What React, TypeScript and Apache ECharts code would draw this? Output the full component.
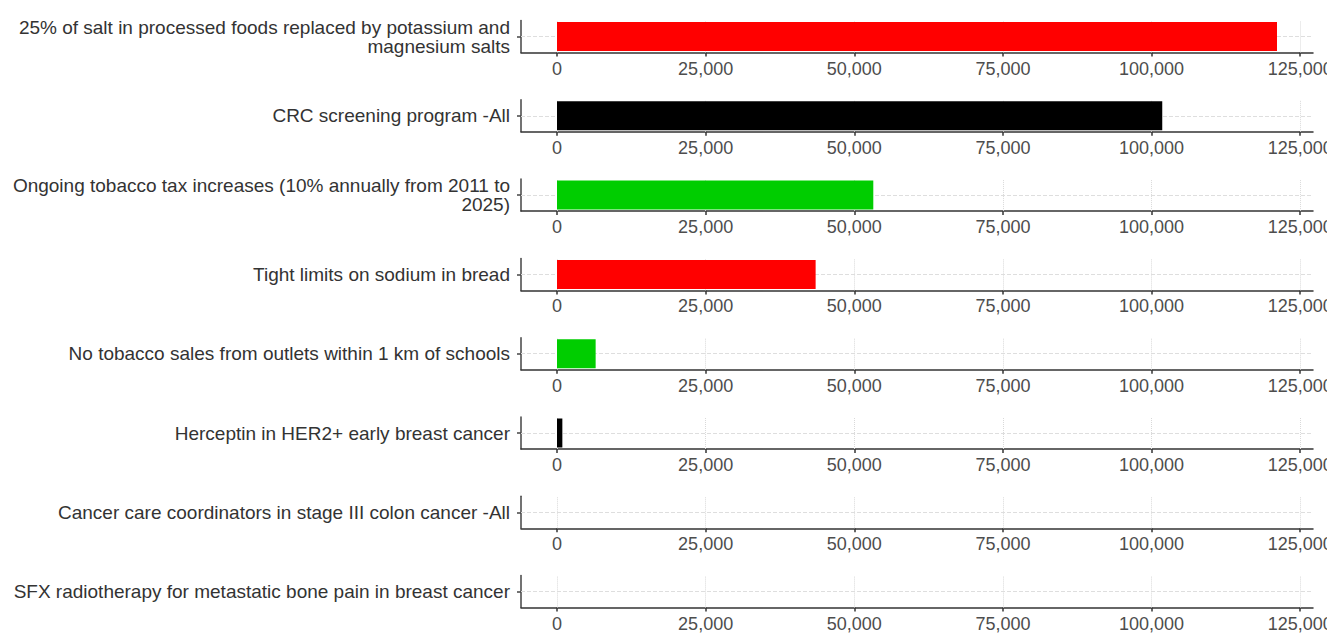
import React, { useEffect, useRef } from "react";
import * as echarts from "echarts";

const categories: string[] = [
  "25% of salt in processed foods replaced by potassium and\nmagnesium salts",
  "CRC screening program -All",
  "Ongoing tobacco tax increases (10% annually from 2011 to\n2025)",
  "Tight limits on sodium in bread",
  "No tobacco sales from outlets within 1 km of schools",
  "Herceptin in HER2+ early breast cancer",
  "Cancer care coordinators in stage III colon cancer -All",
  "SFX radiotherapy for metastatic bone pain in breast cancer",
];

const values: number[] = [121100, 101800, 53200, 43500, 6500, 900, 0, 0];

const groups: string[] = ["diet", "cancer", "tobacco", "diet", "tobacco", "cancer", "cancer", "cancer"];

const xTicks: number[] = [0, 25000, 50000, 75000, 100000, 125000];

const groupColors: Record<string, string> = {
  diet: "#FF0000",
  cancer: "#000000",
  tobacco: "#00CD00",
};

const FONT = "'Liberation Sans', Arial, Helvetica, sans-serif";

function fmt(v: number): string {
  return String(Math.round(v)).replace(/\B(?=(\d{3})+(?!\d))/g, ",");
}

export default function App() {
  const ref = useRef<HTMLDivElement>(null);

  useEffect(() => {
    if (!ref.current) return;
    const chart = echarts.init(ref.current, undefined, { renderer: "svg" });

    const maxV = Math.max(...values);
    const pad = maxV * 0.05;
    const xMin = -pad;
    const xMax = maxV + pad;

    const panelGap = 79.3;
    const firstAxisY = 52.5;
    const panelH = 32;

    const grid: any[] = [];
    const xAxis: any[] = [];
    const yAxis: any[] = [];
    const series: any[] = [];

    categories.forEach((cat, k) => {
      const axisY = firstAxisY + panelGap * k;
      grid.push({
        left: 521,
        right: 14,
        top: axisY - panelH,
        height: panelH,
        containLabel: false,
        outerBoundsMode: "none",
      });
      xAxis.push({
        gridIndex: k,
        type: "value",
        min: xMin,
        max: xMax,
        axisLine: { show: true, onZero: false, lineStyle: { color: "#333333", width: 1.5 } },
        axisTick: { show: true, length: 4, customValues: xTicks, lineStyle: { color: "#333333", width: 1.5 } },
        axisLabel: {
          customValues: xTicks,
          formatter: (v: number) => fmt(v),
          fontSize: 18,
          color: "#4d4d4d",
          margin: 7,
          fontFamily: FONT,
          hideOverlap: false,
        },
        splitLine: { show: false },
      });
      yAxis.push({
        gridIndex: k,
        type: "category",
        data: [cat],
        axisLine: { show: true, onZero: false, lineStyle: { color: "#444444", width: 1.5 } },
        axisTick: { show: true, alignWithLabel: true, length: 4, lineStyle: { color: "#444444", width: 1.5 } },
        axisLabel: {
          fontSize: 19,
          lineHeight: 19,
          color: "#333333",
          margin: 11,
          fontFamily: FONT,
          align: "right",
        },
        splitLine: { show: false },
      });
      series.push({
        type: "bar",
        xAxisIndex: k,
        yAxisIndex: k,
        data: [values[k] === 0 ? null : values[k]],
        barWidth: 29,
        z: 2,
        itemStyle: { color: groupColors[groups[k]] },
        markLine: {
          z: 1,
          silent: true,
          symbol: "none",
          label: { show: false },
          data: [
            ...xTicks.map((v) => ({
              xAxis: v,
              lineStyle: { type: "dotted", color: "#d9d9d9", width: 1 },
            })),
            { yAxis: cat, lineStyle: { type: "dashed", color: "#dedede", width: 1 } },
          ],
        },
      });
    });

    chart.setOption({
      animation: false,
      backgroundColor: "#ffffff",
      textStyle: { fontFamily: FONT },
      grid,
      xAxis,
      yAxis,
      series,
    });

    return () => chart.dispose();
  }, []);

  return (
    <div
      ref={ref}
      style={{ position: "absolute", left: 0, top: 0, width: 1327, height: 635 }}
    />
  );
}
